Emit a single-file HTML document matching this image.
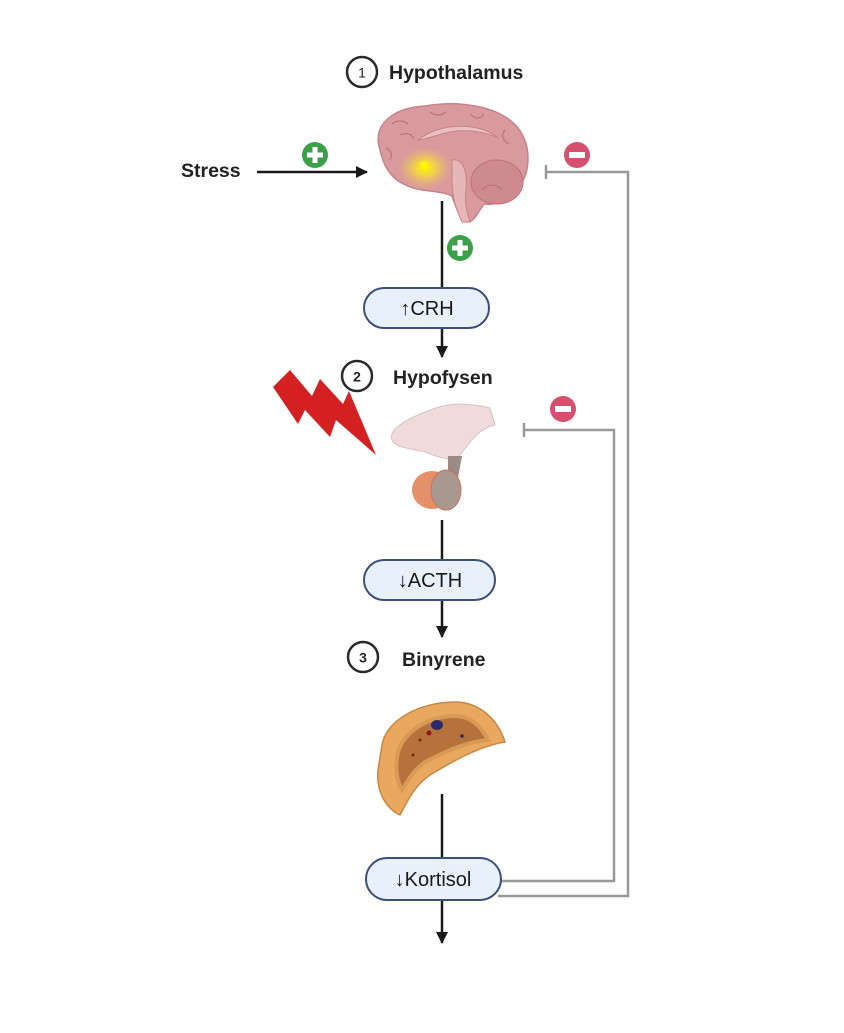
<!DOCTYPE html>
<html><head><meta charset="utf-8"><style>
html,body{margin:0;padding:0;background:#fff;}
svg{display:block;}
text{font-family:"Liberation Sans",Arial,sans-serif;}
</style></head><body>
<svg width="844" height="1033" viewBox="0 0 844 1033" xmlns="http://www.w3.org/2000/svg">
<defs>
<marker id="ah" markerWidth="12" markerHeight="12" refX="11" refY="6" orient="auto" markerUnits="userSpaceOnUse"><path d="M0,0 L12,6 L0,12 Z" fill="#1a1a1a"/></marker>
<radialGradient id="glow" cx="0.5" cy="0.5" r="0.5"><stop offset="0" stop-color="#fff200"/><stop offset="0.35" stop-color="#f3d24a"/><stop offset="1" stop-color="#e6b07a" stop-opacity="0"/></radialGradient>
</defs>

<circle cx="362" cy="72" r="15" fill="none" stroke="#2a2a2a" stroke-width="2.5"/>
<text x="362" y="77.5" font-size="14" text-anchor="middle" fill="#222">1</text>
<text x="389" y="79" font-size="19.5" font-weight="bold" fill="#222">Hypothalamus</text>

<circle cx="357" cy="376" r="15" fill="none" stroke="#2a2a2a" stroke-width="2.5"/>
<text x="357" y="381.5" font-size="14" font-weight="bold" text-anchor="middle" fill="#222">2</text>
<text x="393" y="384" font-size="19.5" font-weight="bold" fill="#222">Hypofysen</text>

<circle cx="363" cy="657" r="15" fill="none" stroke="#2a2a2a" stroke-width="2.5"/>
<text x="363" y="662.5" font-size="14" font-weight="bold" text-anchor="middle" fill="#222">3</text>
<text x="402" y="666" font-size="19.5" font-weight="bold" fill="#222">Binyrene</text>

<text x="181" y="177" font-size="19.5" font-weight="bold" fill="#222">Stress</text>
<line x1="257" y1="172" x2="367" y2="172" stroke="#1a1a1a" stroke-width="2.5" marker-end="url(#ah)"/>

<g>
<path d="M380,150 C372,125 392,108 425,106 C460,100 500,106 518,128 C532,146 530,172 520,185 C512,198 498,206 484,204 C478,212 474,222 468,222 C460,218 456,208 452,196 C440,190 420,192 408,186 C392,180 384,168 380,150 Z" fill="#d89a9e" stroke="#c98388" stroke-width="1.5"/>
<path d="M418,140 C440,122 480,122 498,138 C490,134 470,128 450,132 C435,135 425,140 418,140 Z" fill="#e9bfc1" stroke="#c98388"/>
<ellipse cx="497" cy="182" rx="26" ry="22" fill="#cf8a90" stroke="#bd7379"/>
<path d="M452,160 C462,158 468,170 466,190 C464,205 468,215 470,222 L462,222 C456,210 452,195 452,180 Z" fill="#e6b7b9" stroke="#c98388"/>
<ellipse cx="425" cy="168" rx="28" ry="22" fill="url(#glow)"/>
<circle cx="424" cy="165" r="4" fill="#fff700"/>
<path d="M392,124 q8,-6 16,0 M430,112 q8,6 16,0 M470,114 q8,8 14,0 M505,130 q-6,8 4,14 M386,148 q8,4 4,12 M400,135 q10,-4 14,4 M482,190 q10,-10 20,0" fill="none" stroke="#bd7379" stroke-width="1.2"/>
</g>

<g><circle cx="315" cy="155" r="13" fill="#3aa14a"/><rect x="307" y="152.5" width="16" height="5" fill="#fff"/><rect x="312.5" y="147" width="5" height="16" fill="#fff"/></g>
<g><circle cx="460" cy="248" r="13" fill="#3aa14a"/><rect x="452" y="245.5" width="16" height="5" fill="#fff"/><rect x="457.5" y="240" width="5" height="16" fill="#fff"/></g>

<g><circle cx="577" cy="155" r="13" fill="#d5506e"/><rect x="569" y="152" width="16" height="6" fill="#fff"/></g>
<g><circle cx="563" cy="409" r="13" fill="#d5506e"/><rect x="555" y="406" width="16" height="6" fill="#fff"/></g>

<polyline points="546,172 628,172 628,896 498,896" fill="none" stroke="#999" stroke-width="2.5"/>
<line x1="546" y1="165" x2="546" y2="179" stroke="#999" stroke-width="2.5"/>
<polyline points="524,430 614,430 614,881 500,881" fill="none" stroke="#999" stroke-width="2.5"/>
<line x1="524" y1="423" x2="524" y2="437" stroke="#999" stroke-width="2.5"/>

<line x1="442" y1="201" x2="442" y2="288" stroke="#1a1a1a" stroke-width="2.5"/>
<line x1="442" y1="328" x2="442" y2="357" stroke="#1a1a1a" stroke-width="2.5" marker-end="url(#ah)"/>
<line x1="442" y1="520" x2="442" y2="560" stroke="#1a1a1a" stroke-width="2.5"/>
<line x1="442" y1="600" x2="442" y2="637" stroke="#1a1a1a" stroke-width="2.5" marker-end="url(#ah)"/>
<line x1="442" y1="794" x2="442" y2="858" stroke="#1a1a1a" stroke-width="2.5"/>
<line x1="442" y1="900" x2="442" y2="943" stroke="#1a1a1a" stroke-width="2.5" marker-end="url(#ah)"/>

<rect x="364" y="288" width="125" height="40" rx="20" fill="#e8f0fb" stroke="#3a4f7a" stroke-width="2"/>
<text x="427" y="315" font-size="20" text-anchor="middle" fill="#1a1a1a">↑CRH</text>
<rect x="364" y="560" width="131" height="40" rx="20" fill="#e8f0fb" stroke="#3a4f7a" stroke-width="2"/>
<text x="430" y="587" font-size="20" text-anchor="middle" fill="#1a1a1a">↓ACTH</text>
<rect x="366" y="858" width="135" height="42" rx="21" fill="#e8f0fb" stroke="#3a4f7a" stroke-width="2"/>
<text x="433" y="886" font-size="20" text-anchor="middle" fill="#1a1a1a">↓Kortisol</text>

<polygon points="273,387 290,370 312,396 320,379 343,404 349,391 376,455 336,420 330,437 305,410 298,424" fill="#d42020"/>

<g>
<path d="M392,440 C388,430 405,420 425,412 C440,406 455,400 490,408 L495,425 C478,428 468,445 460,455 C452,462 440,458 425,452 C408,448 396,448 392,440 Z" fill="#efdadc" stroke="#dcc0c3"/>
<path d="M448,456 L462,456 L458,478 L448,478 Z" fill="#9c8a84"/>
<ellipse cx="432" cy="490" rx="20" ry="19" fill="#e49068"/>
<ellipse cx="446" cy="490" rx="15" ry="20" fill="#a89890" stroke="#d0705a"/>
</g>

<g>
<path d="M382,745 C386,720 420,702 455,702 C480,702 498,720 505,742 C480,746 455,760 430,775 C415,785 408,800 400,815 C385,808 376,790 378,770 Z" fill="#e9a860" stroke="#c98840" stroke-width="1.5"/>
<path d="M398,752 C405,730 430,716 455,716 C472,716 482,728 488,740 C465,742 445,752 425,762 C414,770 408,780 402,790 C396,780 395,765 398,752 Z" fill="#b5733b" stroke="#d89a55" stroke-width="4"/>
<ellipse cx="437" cy="725" rx="6" ry="5" fill="#2a2a6a"/>
<circle cx="429" cy="733" r="2.5" fill="#8a1a1a"/>
<circle cx="462" cy="736" r="1.8" fill="#2a2a6a"/>
<circle cx="420" cy="740" r="1.5" fill="#8a1a1a"/>
<circle cx="413" cy="755" r="1.5" fill="#8a1a1a"/>
</g>
</svg>
</body></html>
